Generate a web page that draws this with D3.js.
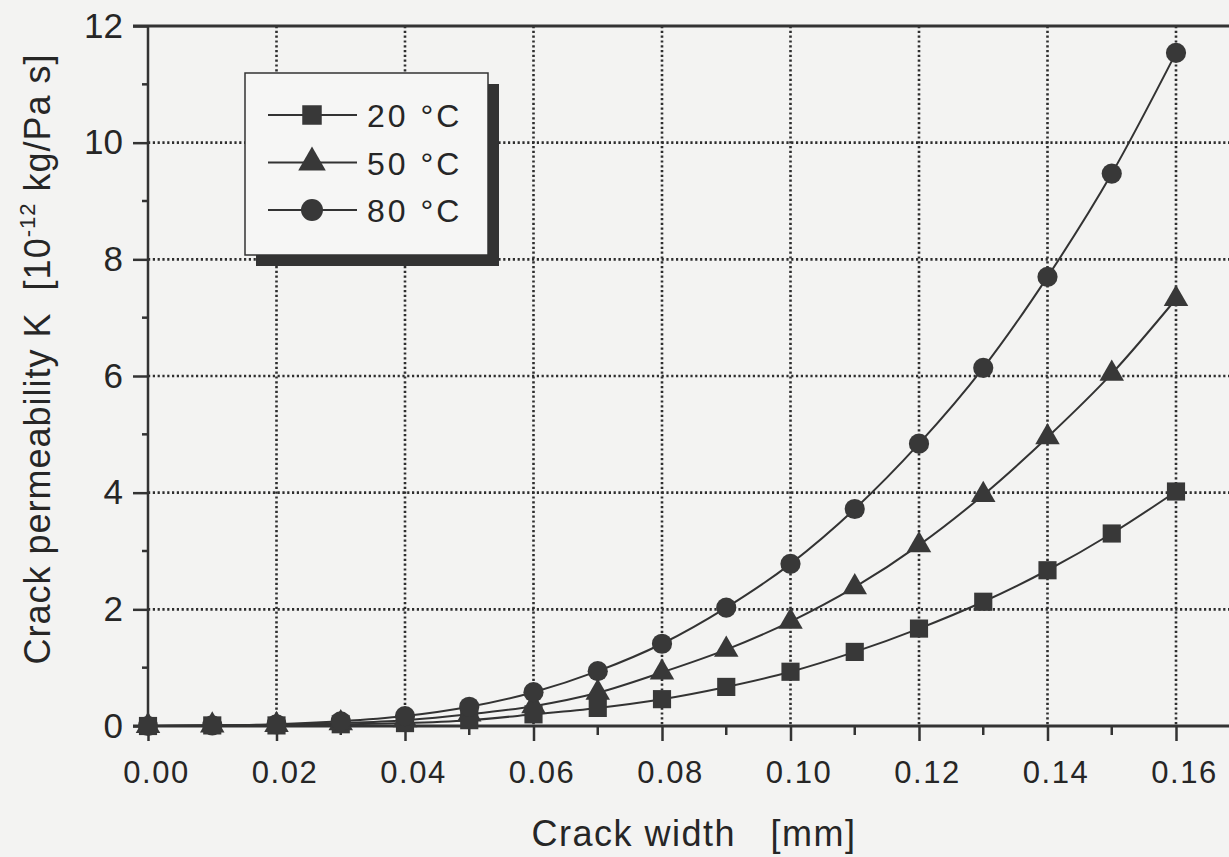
<!DOCTYPE html>
<html>
<head>
<meta charset="utf-8">
<script src="https://cdn.jsdelivr.net/npm/d3@7"></script>
<style>
  html, body { margin: 0; padding: 0; background: #f3f3f2; }
  svg { display: block; font-family: "Liberation Sans", Arial, sans-serif; }
</style>
</head>
<body>
<div id="vis"></div>
<script>
// crack width [mm] and permeability K [1e-12 kg/Pa s] per temperature
const crackWidth = [0, 0.01, 0.02, 0.03, 0.04, 0.05, 0.06, 0.07, 0.08, 0.09, 0.10, 0.11, 0.12, 0.13, 0.14, 0.15, 0.16]
const k20 = [0, 0.01, 0.01, 0.03, 0.05, 0.10, 0.20, 0.31, 0.46, 0.67, 0.93, 1.27, 1.67, 2.13, 2.67, 3.30, 4.02]
const k50 = [0, 0.01, 0.02, 0.05, 0.10, 0.20, 0.34, 0.57, 0.92, 1.31, 1.79, 2.38, 3.10, 3.96, 4.95, 6.04, 7.32]
const k80 = [0, 0.01, 0.03, 0.08, 0.17, 0.33, 0.58, 0.94, 1.41, 2.03, 2.78, 3.72, 4.84, 6.14, 7.70, 9.47, 11.54]

const seriesNames = ['20 °C', '50 °C', '80 °C']
const seriesValues = [k20, k50, k80]

const xMajor = [0, 0.02, 0.04, 0.06, 0.08, 0.10, 0.12, 0.14, 0.16]
const xMinor = [0.01, 0.03, 0.05, 0.07, 0.09, 0.11, 0.13, 0.15]
const yMajor = [0, 2, 4, 6, 8, 10, 12]
const yMinor = [1, 3, 5, 7, 9, 11]

const W = 1229, H = 857
const ink = '#333'

const x = d3.scaleLinear([0, 0.17], [148, 148 + 128.5 * 8.5])
const y = d3.scaleLinear([0, 12], [726, 26])

const symbols = [
    d3.symbol().type(d3.symbolSquare).size(330),
    d3.symbol().type(d3.symbolTriangle).size(260),
    d3.symbol().type(d3.symbolCircle).size(320)
]

let svg = d3.select('#vis').append('svg')
    .attr('width', W)
    .attr('height', H)

svg.append('rect').attr('width', W).attr('height', H).attr('fill', '#f3f3f2')

// dotted grid
svg.append('g').selectAll('line')
    .data(xMajor.slice(1)).enter()
    .append('line')
        .attr('x1', d => x(d)).attr('x2', d => x(d))
        .attr('y1', y(12)).attr('y2', y(0))
        .attr('stroke', '#2e2e2e').attr('stroke-width', 2.6)
        .attr('stroke-dasharray', '2.2,2.6')

svg.append('g').selectAll('line')
    .data(yMajor.slice(1, -1)).enter()
    .append('line')
        .attr('x1', x(0)).attr('x2', W)
        .attr('y1', d => y(d)).attr('y2', d => y(d))
        .attr('stroke', '#2e2e2e').attr('stroke-width', 2.6)
        .attr('stroke-dasharray', '2.2,2.6')

// axes
let yAxis = svg.append('g')
    .attr('transform', `translate(${x(0)},0)`)
    .call(d3.axisLeft(y).tickValues(yMajor).tickSize(15).tickPadding(10))
yAxis.select('.domain').remove()
yAxis.selectAll('.tick line').attr('stroke', ink).attr('stroke-width', 2.5)
yAxis.selectAll('.tick text')
    .attr('fill', '#262626').attr('font-size', 35)
    .attr('font-family', '"Liberation Sans", Arial, sans-serif')

svg.append('g').selectAll('line')
    .data(yMinor).enter()
    .append('line')
        .attr('x1', x(0) - 6).attr('x2', x(0))
        .attr('y1', d => y(d)).attr('y2', d => y(d))
        .attr('stroke', ink).attr('stroke-width', 2.5)

let xAxis = svg.append('g')
    .attr('transform', `translate(0,${y(0)})`)
    .call(d3.axisBottom(x).tickValues(xMajor).tickSize(15).tickFormat(d3.format('.2f')))
xAxis.select('.domain').remove()
xAxis.selectAll('.tick line').attr('stroke', ink).attr('stroke-width', 2.5)
xAxis.selectAll('.tick text')
    .attr('fill', '#262626').attr('font-size', 31)
    .attr('letter-spacing', 1.5)
    .attr('font-family', '"Liberation Sans", Arial, sans-serif')
    .attr('x', 8).attr('y', 57).attr('dy', null)

svg.append('g').selectAll('line')
    .data(xMinor).enter()
    .append('line')
        .attr('x1', d => x(d)).attr('x2', d => x(d))
        .attr('y1', y(0)).attr('y2', y(0) + 9)
        .attr('stroke', ink).attr('stroke-width', 2.5)

// frame lines: y axis, x axis at 0, top border at 12
svg.append('line')
    .attr('x1', x(0)).attr('x2', x(0))
    .attr('y1', y(12)).attr('y2', y(0))
    .attr('stroke', ink).attr('stroke-width', 2.5)
svg.append('line')
    .attr('x1', x(0) - 15).attr('x2', W)
    .attr('y1', y(0)).attr('y2', y(0))
    .attr('stroke', ink).attr('stroke-width', 2.8)
svg.append('line')
    .attr('x1', x(0) - 15).attr('x2', W)
    .attr('y1', y(12)).attr('y2', y(12))
    .attr('stroke', ink).attr('stroke-width', 3)

// series lines and markers
let line = d3.line()
    .x((d, i) => x(crackWidth[i]))
    .y(d => y(d))
    .curve(d3.curveMonotoneX)

seriesValues.forEach((vals, s) => {
    svg.append('path')
        .datum(vals)
        .attr('d', line)
        .attr('fill', 'none')
        .attr('stroke', ink)
        .attr('stroke-width', 2)
})

seriesValues.forEach((vals, s) => {
    svg.append('g').selectAll('path')
        .data(vals).enter()
        .append('path')
            .attr('d', symbols[s])
            .attr('transform', (d, i) => `translate(${x(crackWidth[i])},${y(d)})`)
            .attr('fill', '#383838')
})

// legend
let legend = svg.append('g').attr('class', 'legend')
legend.append('rect')
    .attr('x', 256).attr('y', 84).attr('width', 243).attr('height', 182)
    .attr('fill', '#333')
legend.append('rect')
    .attr('x', 245).attr('y', 73).attr('width', 243).attr('height', 182)
    .attr('fill', '#f6f6f5').attr('stroke', ink).attr('stroke-width', 1.5)

let rows = legend.selectAll('.row')
    .data(seriesNames).enter()
    .append('g')
        .attr('class', 'row')
        .attr('transform', (d, i) => `translate(0,${115 + i * 47.5})`)

rows.append('line')
    .attr('x1', 268).attr('x2', 357)
    .attr('stroke', ink).attr('stroke-width', 2)
rows.append('path')
    .attr('d', (d, i) => symbols[i].size(i === 1 ? 330 : 380)())
    .attr('transform', 'translate(312,0)')
    .attr('fill', '#383838')
rows.append('text')
    .text(d => d)
    .attr('x', 367).attr('y', 12)
    .attr('font-size', 32)
    .attr('letter-spacing', 3)
    .attr('fill', '#262626')

// axis titles
svg.append('text')
    .attr('x', 694).attr('y', 846)
    .attr('text-anchor', 'middle')
    .attr('font-size', 36)
    .attr('letter-spacing', 1.5)
    .attr('fill', '#262626')
    .style('white-space', 'pre')
    .text('Crack width   [mm]')

let yTitle = svg.append('text')
    .attr('transform', 'translate(50,359) rotate(-90)')
    .attr('text-anchor', 'middle')
    .attr('font-size', 36)
    .attr('letter-spacing', 1)
    .attr('fill', '#262626')
    .style('white-space', 'pre')
yTitle.append('tspan').text('Crack permeability K  [10')
yTitle.append('tspan').text('-12').attr('font-size', 22).attr('dy', -15)
yTitle.append('tspan').text(' kg/Pa s]').attr('dy', 15)
</script>
</body>
</html>
